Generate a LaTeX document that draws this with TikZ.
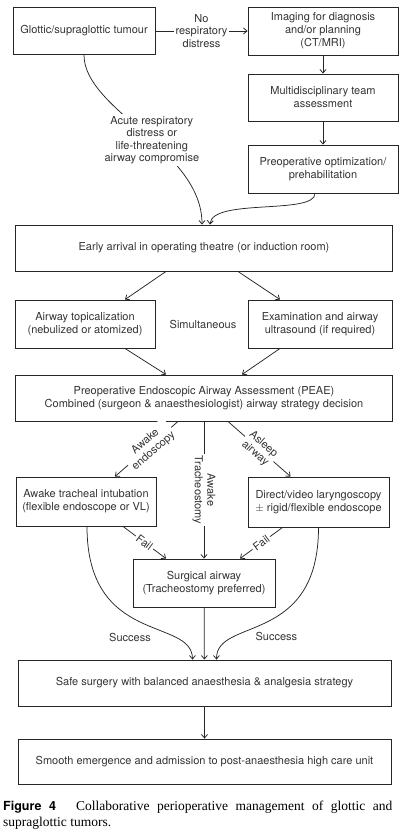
\documentclass[tikz,border=0pt]{standalone}
\usepackage{fontspec}
\setmainfont{Liberation Serif}
\newfontfamily\flowfont{TeX Gyre Heros}
\usetikzlibrary{arrows.meta}

\tikzset{
  box/.style={draw=black!85, line width=0.9pt, text=black!80, align=center,
    font=\flowfont\fontsize{11}{13}\selectfont, inner sep=2pt},
  lbl/.style={text=black!80, align=center,
    font=\flowfont\fontsize{11}{12.5}\selectfont, inner sep=2pt},
  flow/.style={draw=black!85, line width=0.75pt,
    -{Straight Barb[length=3.5pt,width=6pt]}},
}

\begin{document}
\begin{tikzpicture}[x=1pt,y=-1pt]
  \useasboundingbox (0,0) rectangle (407,837);

  % the boxes
  \node[box, minimum width=142, minimum height=47] (glottic) at (84,31) {Glottic/supraglottic tumour};
  \node[box, minimum width=150, minimum height=48] (imaging) at (323,31) {Imaging for diagnosis\\and/or planning\\(CT/MRI)};
  \node[box, minimum width=150, minimum height=47] (mdt) at (323,97.5) {Multidisciplinary team\\assessment};
  \node[box, minimum width=150, minimum height=48] (preop) at (323,169) {Preoperative optimization/\\prehabilitation};
  \node[box, minimum width=377, minimum height=46] (early) at (204,248) {Early arrival in operating theatre (or induction room)};
  \node[box, minimum width=140, minimum height=48] (topical) at (85,324) {Airway topicalization\\(nebulized or atomized)};
  \node[box, minimum width=144, minimum height=48] (exam) at (320,324) {Examination and airway\\ultrasound (if required)};
  \node[lbl] (simul) at (203,324) {Simultaneous};
  \node[box, minimum width=377, minimum height=46] (peae) at (204,398) {Preoperative Endoscopic Airway Assessment (PEAE)\\Combined (surgeon \& anaesthesiologist) airway strategy decision};
  \node[box, minimum width=140, minimum height=49] (awake) at (86,501.5) {Awake tracheal intubation\\(flexible endoscope or VL)};
  \node[box, minimum width=141, minimum height=50] (direct) at (318.5,502) {Direct/video laryngoscopy\\$\pm$ rigid/flexible endoscope};
  \node[box, minimum width=142, minimum height=48] (surgical) at (204,583) {Surgical airway\\(Tracheostomy preferred)};
  \node[box, minimum width=373, minimum height=46] (safe) at (204.5,683) {Safe surgery with balanced anaesthesia \& analgesia strategy};
  \node[box, minimum width=373, minimum height=45] (smooth) at (204.5,761.5) {Smooth emergence and admission to post-anaesthesia high care unit};

  % top part
  \draw[flow] (glottic) -- (imaging) node[lbl, fill=white, midway] {No\\respiratory\\distress};
  \draw[flow] (imaging) -- (mdt);
  \draw[flow] (mdt) -- (preop);
  \draw[flow] (glottic.south) .. controls (84,110) and (202,150) .. ([xshift=-2pt]early.north)
    node[lbl, fill=white, pos=0.55] (acute) {Acute respiratory\\distress or\\life-threatening\\airway compromise};
  \draw[flow] ([xshift=-8pt]preop.south) .. controls (315,215) and (212,198) .. ([xshift=6pt]early.north);

  % simultaneous steps
  \draw[flow] ([xshift=-38pt]early.south) -- ([xshift=40pt]topical.north);
  \draw[flow] ([xshift=34pt]early.south) -- ([xshift=-40pt]exam.north);
  \draw[flow] ([xshift=40pt]topical.south) -- ([xshift=-38pt]peae.north);
  \draw[flow] ([xshift=-40pt]exam.south) -- ([xshift=38pt]peae.north);

  % airway strategy
  \draw[flow] ([xshift=-26pt]peae.south) -- ([xshift=29pt]awake.north)
    node[lbl, fill=white, sloped, pos=0.45] {Awake\\endoscopy};
  \draw[flow] ([xshift=24pt]peae.south) -- ([xshift=-28pt]direct.north)
    node[lbl, fill=white, sloped, pos=0.5] {Asleep\\airway};
  \draw[flow] (peae) -- (surgical)
    node[lbl, fill=white, rotate=-90, midway] {Awake\\Tracheostomy};
  \draw[flow] ([xshift=37pt]awake.south) -- ([xshift=-38pt]surgical.north)
    node[lbl, fill=white, sloped, midway] {Fail};
  \draw[flow] ([xshift=-36pt]direct.south) -- ([xshift=36pt]surgical.north)
    node[lbl, fill=white, sloped, midway] {Fail};

  % to surgery
  \draw[flow] ([xshift=1pt]awake.south) .. controls (87,646) and (192,617) .. ([xshift=-12pt]safe.north)
    node[lbl, pos=0.6, anchor=north east, inner sep=4pt] {Success};
  \draw[flow] (direct.south) .. controls (318.5,646) and (216,617) .. ([xshift=12pt]safe.north)
    node[lbl, pos=0.6, anchor=north west, inner sep=3pt] {Success};
  \draw[flow] (surgical) -- (safe);
  \draw[flow] (safe) -- (smooth);

  % caption
  \node[anchor=north west, inner sep=0pt, text width=389pt, align=justify,
    font=\fontsize{13.5}{16}\selectfont] (caption) at (3,801)
    {{\flowfont\bfseries\fontsize{12.5}{16}\selectfont Figure 4}\hspace{20pt}Collaborative perioperative management of glottic and\linebreak supraglottic tumors.};
\end{tikzpicture}
\end{document}
